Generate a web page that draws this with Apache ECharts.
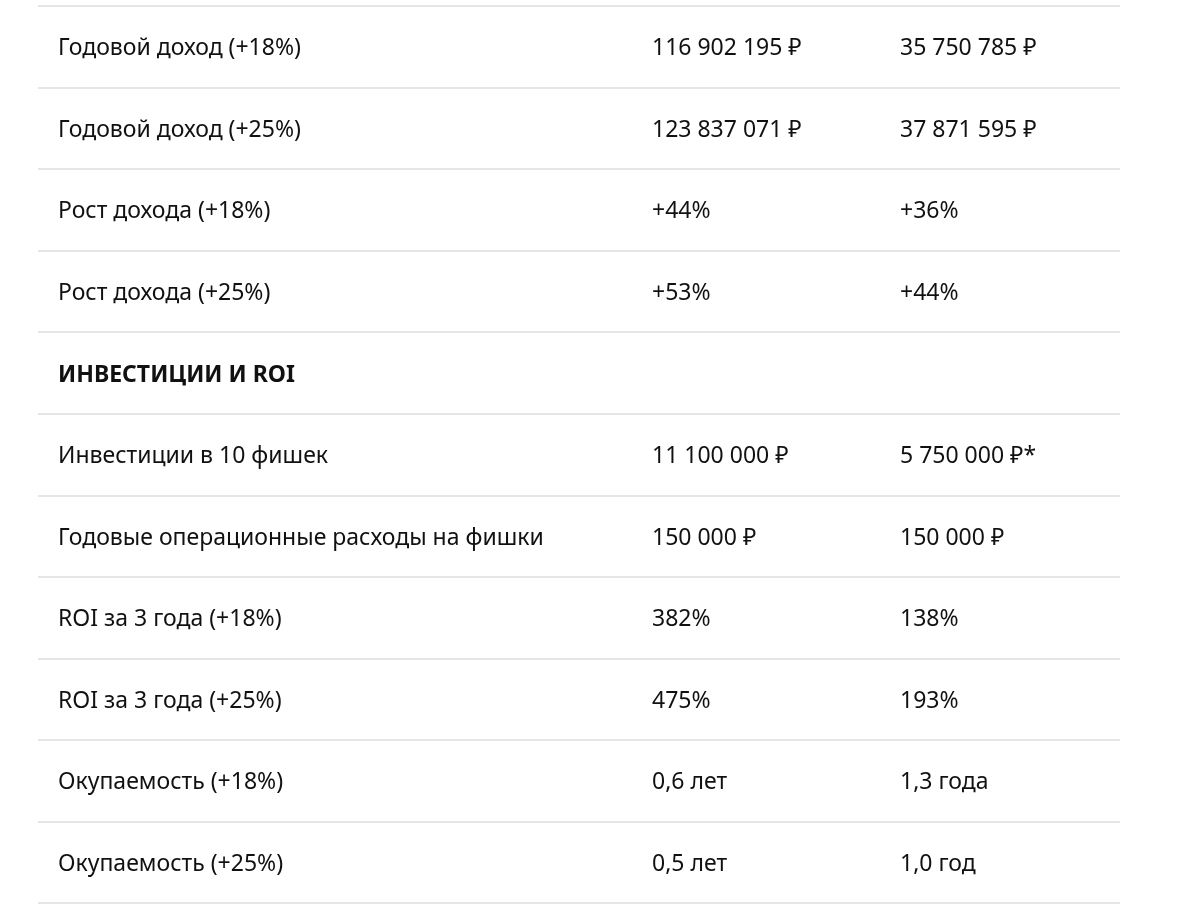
<!DOCTYPE html>
<html><head><meta charset="utf-8">
<script src="https://cdn.jsdelivr.net/npm/echarts@6/dist/echarts.min.js"></script>
<style>html,body{margin:0;background:#fff}#c{width:1200px;height:915px}</style>
</head><body><div id="c"></div>
<script>
const rowLabels = ["Годовой доход (+18%)","Годовой доход (+25%)","Рост дохода (+18%)","Рост дохода (+25%)","ИНВЕСТИЦИИ И ROI","Инвестиции в 10 фишек","Годовые операционные расходы на фишки","ROI за 3 года (+18%)","ROI за 3 года (+25%)","Окупаемость (+18%)","Окупаемость (+25%)"];
const col1 = ["116 902 195 ₽","123 837 071 ₽","+44%","+53%","","11 100 000 ₽","150 000 ₽","382%","475%","0,6 лет","0,5 лет"];
const col2 = ["35 750 785 ₽","37 871 595 ₽","+36%","+44%","","5 750 000 ₽*","150 000 ₽","138%","193%","1,3 года","1,0 год"];
const headingRows = ["ИНВЕСТИЦИИ И ROI"];

const rowKeys = rowLabels.map((_, i) => String(i));
const colX = [20, 614, 862];
function mk(texts, x) {
  return {
    type: 'scatter', symbolSize: 0, silent: true,
    itemStyle: { opacity: 1 },
    data: texts.map((t, i) => ({
      value: [x, rowKeys[i]],
      label: {
        show: true, position: 'right', distance: 0, offset: [0, 2],
        formatter: t,
        fontFamily: '"Noto Sans", Inter, sans-serif',
        fontSize: 23,
        fontWeight: headingRows.includes(t) ? 'bold' : 'normal',
        color: '#111111'
      }
    }))
  };
}
const chart = echarts.init(document.getElementById('c'));
chart.setOption({
  animation: false,
  grid: { left: 38, right: 80, top: 6, height: 897 },
  xAxis: { type: 'value', min: 0, max: 1082, show: false },
  yAxis: {
    type: 'category', data: rowKeys, inverse: true,
    axisLabel: { show: false }, axisTick: { show: false }, axisLine: { show: false },
    splitLine: { show: true, interval: (idx) => idx < rowKeys.length, lineStyle: { color: '#dcdcdc', width: 1.5 } }
  },
  series: [mk(rowLabels, colX[0]), mk(col1, colX[1]), mk(col2, colX[2])]
});
</script></body></html>
